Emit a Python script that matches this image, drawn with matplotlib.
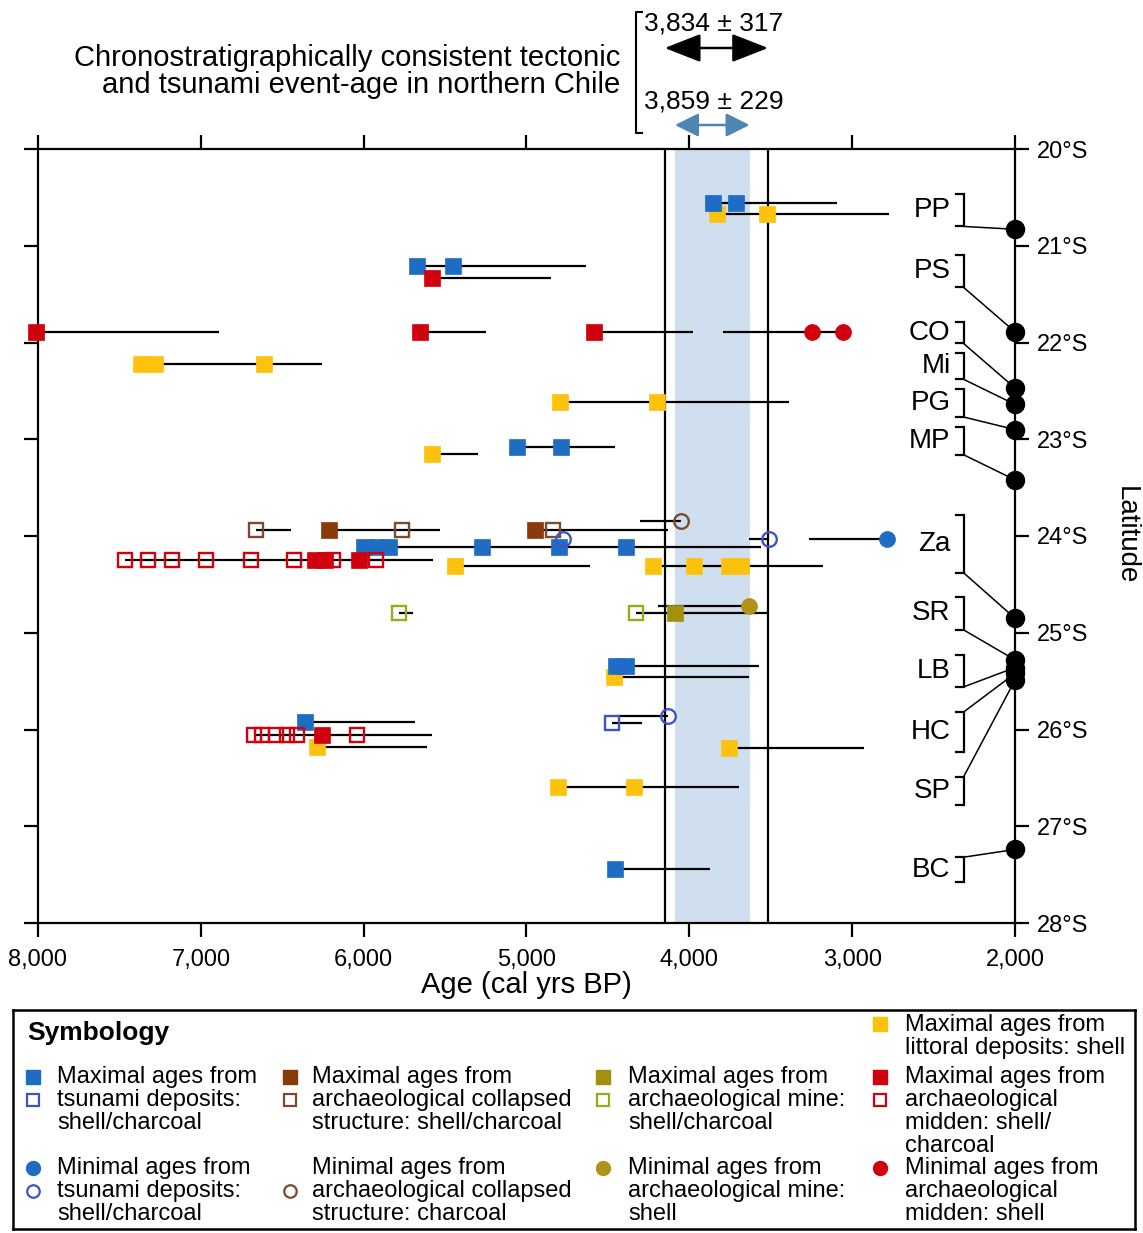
import matplotlib
matplotlib.use('Agg')
import matplotlib.pyplot as plt
from matplotlib.transforms import blended_transform_factory

plt.rcParams['font.family'] = ['Liberation Sans', 'DejaVu Sans']

# ---- data (ages in cal yrs BP, latitude in degrees S) ----
event_mean = [3834, 3859]
event_err = [317, 229]

# horizontal age ranges: latitude, older end, younger end
seg_lat = [20.56, 20.67, 21.21, 21.33, 21.89, 21.89, 21.89, 21.89, 22.22, 22.62,
           23.15, 23.08, 23.84, 23.94, 23.94, 23.94, 24.03, 24.03, 24.11, 24.25,
           24.31, 24.31, 24.80, 24.80, 24.72, 25.34, 25.46, 25.86, 25.93, 25.92,
           26.06, 26.18, 26.19, 26.59, 27.44]
seg_old = [3857, 3832, 5670, 5583, 8010, 5651, 4584, 3795, 7365, 4794,
           5583, 5059, 4301, 6662, 6212, 4948, 3635, 3265, 5996, 7464,
           5441, 4221, 5781, 4326, 4190, 4449, 4461, 4440, 4473, 6360,
           6674, 6286, 3758, 4806, 4455]
seg_young = [3093, 2772, 4634, 4850, 6890, 5250, 3980, 3055, 6255, 3388,
             5300, 4455, 4054, 6446, 5534, 4128, 3512, 2784, 3561, 5577,
             4609, 3179, 5700, 3524, 3635, 3573, 3635, 4128, 4290, 5682,
             5583, 5608, 2926, 3697, 3875]

# maximal ages, tsunami deposits
tsu_max_age = [3857, 3715, 5670, 5454, 5059, 4788, 5996, 5916, 5842, 5275, 4800, 4387,
               4449, 4387, 6360, 4455]
tsu_max_lat = [20.56, 20.56, 21.21, 21.21, 23.08, 23.08, 24.11, 24.11, 24.11, 24.11, 24.11, 24.11,
               25.34, 25.34, 25.92, 27.44]
tsu_max_open_age = [4473]
tsu_max_open_lat = [25.93]
# maximal ages, littoral deposits
lit_age = [3832, 3524, 7365, 7279, 6613, 4794, 4196, 5583, 5441, 4221, 3974, 3758, 3684,
           4461, 6286, 3758, 4806, 4338]
lit_lat = [20.67, 20.67, 22.22, 22.22, 22.22, 22.62, 22.62, 23.15, 24.31, 24.31, 24.31, 24.31, 24.31,
           25.46, 26.18, 26.19, 26.59, 26.59]
# maximal ages, midden
mid_max_age = [5583, 8010, 5651, 4584, 6298, 6237, 6027, 6255]
mid_max_lat = [21.33, 21.89, 21.89, 21.89, 24.25, 24.25, 24.25, 26.06]
mid_max_open_age = [7464, 7322, 7180, 6970, 6693, 6428, 6187, 5922,
                    6674, 6625, 6539, 6471, 6409, 6039]
mid_max_open_lat = [24.25] * 8 + [26.06] * 6
mid_min_age = [3247, 3055]
mid_min_lat = [21.89, 21.89]
# archaeological collapsed structure
arc_max_age = [6212, 4948]
arc_max_lat = [23.94, 23.94]
arc_max_open_age = [6662, 5762, 4837]
arc_max_open_lat = [23.94, 23.94, 23.94]
arc_min_open_age = [4054]
arc_min_open_lat = [23.84]
# minimal ages, tsunami deposits
tsu_min_age = [2784]
tsu_min_lat = [24.03]
tsu_min_open_age = [3512, 4776, 4128]
tsu_min_open_lat = [24.03, 24.03, 25.86]
# archaeological mine
mine_max_age = [4085]
mine_max_lat = [24.80]
mine_max_open_age = [5781, 4326]
mine_max_open_lat = [24.80, 24.80]
mine_min_age = [3635]
mine_min_lat = [24.72]

# sites: bracket extent, and latitude of the site on the coast axis
sites = ['PP', 'PS', 'CO', 'Mi', 'PG', 'MP', 'Za', 'SR', 'LB', 'HC', 'SP', 'BC']
site_top = [20.46, 21.10, 21.79, 22.11, 22.48, 22.87, 23.78, 24.63, 25.23, 25.82, 26.49, 27.32]
site_bot = [20.80, 21.43, 22.01, 22.38, 22.77, 23.16, 24.38, 24.97, 25.56, 26.23, 26.78, 27.58]
site_lat = [20.83, 21.89, 22.47, 22.64, 22.90, 23.42, 24.85, 25.28, 25.36, 25.42, 25.49, 27.24]
site_link = ['bot'] * 9 + ['top'] * 3

lat_ticks = [20, 21, 22, 23, 24, 25, 26, 27, 28]
age_ticks = [8000, 7000, 6000, 5000, 4000, 3000, 2000]

# colours
BLUE = '#1f6cc4'
BLUE_O = '#3d55c4'
BROWN = '#8a3b0c'
BROWN_O = '#7a4b2e'
OLIVE = '#a3900e'
OLIVE_O = '#9aaa1a'
OLIVE_C = '#b0921a'
RED = '#d0000e'
YELLOW = '#fdc30c'

W, H = 1143, 1233
fig = plt.figure(figsize=(W / 100, H / 100), dpi=100)
ax = fig.add_axes([38 / W, 1 - 923 / H, (1015 - 38) / W, (923 - 149) / H])
ax.set_xlim(8000, 2000)
ax.set_ylim(28, 20)

# event band and limits
ax.axvspan(event_mean[1] + event_err[1], event_mean[1] - event_err[1], color='#cfdff0', lw=0, zorder=0)
for a in (event_mean[0] + event_err[0], event_mean[0] - event_err[0]):
    ax.axvline(a, color='black', lw=1.6, zorder=2)

for la, o, y in zip(seg_lat, seg_old, seg_young):
    ax.plot([o, y], [la, la], color='black', lw=1.6, zorder=3, solid_capstyle='butt')


def fill(ages, lats, marker, color, ms=11.5):
    ax.plot(ages, lats, marker, ls='none', ms=ms, color=color, mec=color, mew=0.5,
            zorder=5, clip_on=False)


def hollow(ages, lats, marker, color, ms=10.5):
    ax.plot(ages, lats, marker, ls='none', ms=ms, mfc='none', mec=color, mew=1.7,
            zorder=6, clip_on=False)


fill(lit_age, lit_lat, 's', YELLOW)
fill(tsu_max_age, tsu_max_lat, 's', BLUE)
fill(mid_max_age, mid_max_lat, 's', RED)
fill(arc_max_age, arc_max_lat, 's', BROWN)
fill(mine_max_age, mine_max_lat, 's', OLIVE)
fill(mid_min_age, mid_min_lat, 'o', RED)
fill(tsu_min_age, tsu_min_lat, 'o', BLUE)
fill(mine_min_age, mine_min_lat, 'o', OLIVE_C)
hollow(tsu_max_open_age, tsu_max_open_lat, 's', BLUE_O)
hollow(mid_max_open_age, mid_max_open_lat, 's', RED)
hollow(arc_max_open_age, arc_max_open_lat, 's', BROWN_O)
hollow(mine_max_open_age, mine_max_open_lat, 's', OLIVE_O)
hollow(arc_min_open_age, arc_min_open_lat, 'o', BROWN_O)
hollow(tsu_min_open_age, tsu_min_open_lat, 'o', BLUE_O)

# site brackets and links to the coast axis
bx, btick, blab = 2316, 2360, 2395
for name, t, b, sl, link in zip(sites, site_top, site_bot, site_lat, site_link):
    ax.plot([btick, bx, bx, btick], [t, t, b, b], color='black', lw=1.6, zorder=4,
            solid_joinstyle='miter')
    ax.text(blab, (t + b) / 2, name, ha='right', va='center', fontsize=20)
    y0 = b if link == 'bot' else t
    ax.plot([bx, 2000], [y0, sl], color='black', lw=1.1, zorder=4, clip_on=False)
ax.plot([2000] * len(site_lat), site_lat, 'o', ms=13, color='black', zorder=7, clip_on=False)

# axes styling
for s in ax.spines.values():
    s.set_linewidth(1.6)
ax.set_xticks(age_ticks)
ax.set_xticklabels([f'{a:,}' for a in age_ticks])
ax.set_yticks(lat_ticks)
ax.set_yticklabels([f'{v}°S' for v in lat_ticks])
ax.tick_params(axis='x', direction='out', length=10, width=1.6, top=True, labeltop=False,
               labelsize=17, pad=9)
ax.tick_params(axis='y', direction='out', length=10, width=1.6, left=True, right=True,
               labelleft=False, labelright=True, labelsize=17, pad=6)
ax.set_xlabel('Age (cal yrs BP)', fontsize=21, labelpad=0)
fig.text(1126 / W, 1 - 535 / H, 'Latitude', rotation=270, ha='center', va='center', fontsize=20)

# header
fig.text(620 / W, 1 - 58 / H, 'Chronostratigraphically consistent tectonic', ha='right',
         va='center', fontsize=21)
fig.text(620 / W, 1 - 85 / H, 'and tsunami event-age in northern Chile', ha='right',
         va='center', fontsize=21)
fig.add_artist(plt.Line2D([642 / W, 636 / W, 636 / W, 642 / W],
                          [1 - 12 / H, 1 - 12 / H, 1 - 133 / H, 1 - 133 / H],
                          color='black', lw=1.5))
fig.text(644 / W, 1 - 24 / H, f'{event_mean[0]:,} ± {event_err[0]}', ha='left', va='center', fontsize=19)
fig.text(644 / W, 1 - 101 / H, f'{event_mean[1]:,} ± {event_err[1]}', ha='left', va='center', fontsize=19)
tr = blended_transform_factory(ax.transData, fig.transFigure)
ax.annotate('', xy=(event_mean[0] + event_err[0], 1 - 48 / H), xycoords=tr,
            xytext=(event_mean[0] - event_err[0], 1 - 48 / H), textcoords=tr,
            arrowprops=dict(arrowstyle='<|-|>,head_length=1.4,head_width=0.55', color='black',
                            lw=1.8, shrinkA=0, shrinkB=0, mutation_scale=16))
ax.annotate('', xy=(event_mean[1] + event_err[1], 1 - 125 / H), xycoords=tr,
            xytext=(event_mean[1] - event_err[1], 1 - 125 / H), textcoords=tr,
            arrowprops=dict(arrowstyle='<|-|>,head_length=1.2,head_width=0.6', color='#4d85b5',
                            lw=1.8, shrinkA=0, shrinkB=0, mutation_scale=12))

# symbology box
leg = fig.add_axes([13 / W, 1 - 1229 / H, (1135 - 13) / W, (1229 - 1010) / H])
leg.set_xlim(13, 1135)
leg.set_ylim(1229, 1010)
leg.set_xticks([])
leg.set_yticks([])
for s in leg.spines.values():
    s.set_linewidth(1.8)
leg.text(27, 1033, 'Symbology', fontsize=19, fontweight='bold', va='center')

mx = [33, 290, 603, 880]
tx = [57, 312, 628, 905]


def entry(col, y0, lines):
    for i, l in enumerate(lines):
        leg.text(tx[col], y0 + 23 * i, l, fontsize=17, va='center')


def lmark(col, y, marker, color, open_=False):
    if open_:
        leg.plot([mx[col]], [y], marker, ms=9, mfc='none', mec=color, mew=1.6)
    else:
        leg.plot([mx[col]], [y], marker, ms=10, color=color)


lmark(3, 1024, 's', YELLOW)
entry(3, 1025, ['Maximal ages from', 'littoral deposits: shell'])

r2 = 1077
entry(0, r2, ['Maximal ages from', 'tsunami deposits:', 'shell/charcoal'])
entry(1, r2, ['Maximal ages from', 'archaeological collapsed', 'structure: shell/charcoal'])
entry(2, r2, ['Maximal ages from', 'archaeological mine:', 'shell/charcoal'])
entry(3, r2, ['Maximal ages from', 'archaeological', 'midden: shell/', 'charcoal'])
for c, (fc, oc) in enumerate([(BLUE, BLUE_O), (BROWN, BROWN_O), (OLIVE, OLIVE_O), (RED, RED)]):
    lmark(c, r2, 's', fc)
    lmark(c, r2 + 23, 's', oc, open_=True)

r3 = 1168
entry(0, r3, ['Minimal ages from', 'tsunami deposits:', 'shell/charcoal'])
entry(1, r3, ['Minimal ages from', 'archaeological collapsed', 'structure: charcoal'])
entry(2, r3, ['Minimal ages from', 'archaeological mine:', 'shell'])
entry(3, r3, ['Minimal ages from', 'archaeological', 'midden: shell'])
lmark(0, r3, 'o', BLUE)
lmark(0, r3 + 23, 'o', BLUE_O, open_=True)
lmark(1, r3 + 23, 'o', BROWN_O, open_=True)
lmark(2, r3, 'o', OLIVE_C)
lmark(3, r3, 'o', RED)

fig.savefig('out.png', dpi=100)
